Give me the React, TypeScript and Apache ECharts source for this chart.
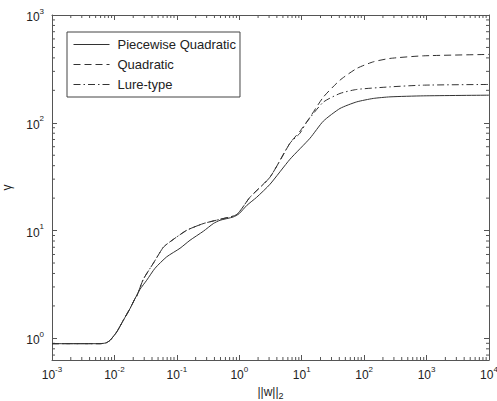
import React, { useEffect, useRef } from "react";
import * as echarts from "echarts";

// ---- data ----
const xPQ = [0.001, 0.00587, 0.00733, 0.00849, 0.01086, 0.01387, 0.01774, 0.02135, 0.02568, 0.03287, 0.04466, 0.06877, 0.1123, 0.1623, 0.2652, 0.3835, 0.491, 0.802, 0.989, 1.329, 1.9, 3.104, 6.49, 13.57, 22.17, 41.04, 76.0, 140.2, 259.4, 886, 10000];
const yPQ = [0.893, 0.893, 0.908, 0.958, 1.144, 1.47, 1.887, 2.337, 2.85, 3.46, 4.47, 5.71, 6.85, 8.13, 9.85, 11.61, 12.46, 13.38, 14.32, 17.18, 20.38, 26.9, 45.9, 71.9, 103.5, 135.8, 156.3, 168.2, 174.0, 177.8, 180.4];

const xQ = [0.001, 0.00587, 0.00733, 0.00849, 0.01086, 0.01387, 0.01774, 0.02135, 0.02274, 0.02901, 0.04195, 0.0607, 0.0777, 0.1438, 0.2652, 0.491, 0.909, 1.484, 3.104, 6.49, 9.38, 13.57, 22.17, 41.04, 76.0, 140.2, 259.4, 886, 10000];
const yQ = [0.893, 0.893, 0.908, 0.958, 1.144, 1.47, 1.887, 2.337, 2.45, 3.53, 4.97, 7.0, 7.87, 10.06, 11.61, 12.73, 14.08, 20.4, 31.3, 64.7, 83.6, 112.7, 172.9, 248.6, 319, 367.8, 395.4, 418, 430.7];

const xL = [0.001, 0.00587, 0.00733, 0.00849, 0.01086, 0.01387, 0.01774, 0.02135, 0.02274, 0.02901, 0.04195, 0.0607, 0.0777, 0.1438, 0.2652, 0.491, 0.909, 1.484, 3.104, 6.49, 9.38, 12.02, 22.17, 41.04, 76.0, 259.4, 886, 10000];
const yL = [0.893, 0.893, 0.908, 0.958, 1.144, 1.47, 1.887, 2.337, 2.45, 3.53, 4.97, 7.0, 7.87, 10.06, 11.61, 12.73, 14.08, 20.4, 31.3, 64.7, 80.1, 101.3, 155.3, 187.1, 203.8, 215.4, 223.4, 226.8];

const seriesNames = ["Piecewise Quadratic", "Quadratic", "Lure-type"];
const xMin = 0.001;
const xMax = 10000;
const yMin = 0.63;
const yMax = 1000;

const FONT = "Liberation Sans, Arial, Helvetica, sans-serif";

function zip(xs: number[], ys: number[]) {
  return xs.map((x, i) => [x, ys[i]]);
}

function minorTicks(lo: number, hi: number) {
  const out: number[] = [];
  for (let e = -4; e <= 4; e++) {
    for (let k = 2; k <= 9; k++) {
      const v = k * Math.pow(10, e);
      if (v > lo * 1.0001 && v < hi * 0.9999) out.push(v);
    }
  }
  return out;
}

function powLabel(v: number) {
  const l = Math.log10(v);
  const e = Math.round(l);
  if (Math.abs(l - e) > 1e-6) return "";
  return "{b|10}{s|" + e + "}";
}

const labelRich = {
  b: { fontSize: 12, fontFamily: FONT, color: "#222", verticalAlign: "bottom" as const },
  s: { fontSize: 8, fontFamily: FONT, color: "#222", verticalAlign: "bottom" as const, padding: [0, 0, 8, 0] },
};

export default function App() {
  const ref = useRef<HTMLDivElement>(null);
  useEffect(() => {
    if (!ref.current) return;
    const chart = echarts.init(ref.current, undefined, { renderer: "svg" });
    const axisColor = "#555";
    const lineColor = "#333";
    const xMinor = minorTicks(xMin, xMax);
    const yMinor = minorTicks(yMin, yMax);

    const baseX = {
      type: "log" as const,
      min: xMin,
      max: xMax,
      logBase: 10,
      axisLine: { show: true, onZero: false, lineStyle: { color: axisColor, width: 1 } },
      axisTick: { show: true, inside: true, length: 5, lineStyle: { color: axisColor } },
      splitLine: { show: false },
      minorTick: { show: false },
    };
    const baseY = {
      type: "log" as const,
      min: yMin,
      max: yMax,
      logBase: 10,
      axisLine: { show: true, onZero: false, lineStyle: { color: axisColor, width: 1 } },
      axisTick: { show: true, inside: true, length: 5, lineStyle: { color: axisColor } },
      splitLine: { show: false },
      minorTick: { show: false },
    };

    const lineCommon = {
      type: "line" as const,
      symbol: "none",
      showSymbol: false,
      smooth: 0.2,
    };

    chart.setOption({
      animation: false,
      backgroundColor: "#fff",
      grid: { left: 52, top: 15, right: 8, bottom: 41, containLabel: false, outerBoundsMode: "none" },
      legend: {
        show: true,
        data: seriesNames,
        orient: "vertical",
        left: 67,
        top: 32,
        itemWidth: 36,
        itemHeight: 13,
        itemGap: 7,
        padding: [6, 4, 6, 6],
        borderColor: "#444",
        borderWidth: 1,
        borderRadius: 0,
        backgroundColor: "#fff",
        itemStyle: { opacity: 0 },
        lineStyle: { width: 1 },
        textStyle: { fontFamily: FONT, fontSize: 13, color: "#222", padding: [0, 0, 0, 3] },
        selectedMode: false,
      },
      xAxis: [
        {
          ...baseX,
          position: "bottom",
          axisLabel: { show: true, margin: 5, formatter: powLabel, rich: labelRich },
          name: "{a|||w||}{c|2}",
          nameLocation: "middle",
          nameGap: 20,
          nameTextStyle: {
            rich: {
              a: { fontSize: 12, fontFamily: FONT, color: "#222", verticalAlign: "top" },
              c: { fontSize: 9, fontFamily: FONT, color: "#222", verticalAlign: "top", padding: [6, 0, 0, 0] },
            },
          },
        },
        { ...baseX, position: "top", axisLabel: { show: false } },
      ],
      yAxis: [
        {
          ...baseY,
          position: "left",
          axisLabel: { show: true, margin: 8, formatter: powLabel, rich: labelRich },
          name: "γ",
          nameLocation: "middle",
          nameGap: 39,
          nameRotate: 90,
          nameTextStyle: { fontFamily: FONT, fontSize: 12, color: "#222" },
        },
        { ...baseY, position: "right", axisLabel: { show: false } },
      ],
      series: [
        {
          ...lineCommon,
          name: seriesNames[0],
          data: zip(xPQ, yPQ),
          lineStyle: { color: lineColor, width: 1, type: "solid" },
          itemStyle: { color: lineColor },
        },
        {
          ...lineCommon,
          name: seriesNames[1],
          data: zip(xQ, yQ),
          lineStyle: { color: lineColor, width: 1, type: [7, 4] },
          itemStyle: { color: lineColor },
        },
        {
          ...lineCommon,
          name: seriesNames[2],
          data: zip(xL, yL),
          lineStyle: { color: lineColor, width: 1, type: [7, 3, 1.5, 3] },
          itemStyle: { color: lineColor },
        },
        {
          type: "custom",
          name: "xminor",
          silent: true,
          data: xMinor.map((v) => [v, 1]),
          renderItem: (params: any, api: any) => {
            const v = api.value(0);
            const px = api.coord([v, 1])[0];
            const cs = params.coordSys;
            const top = cs.y;
            const bottom = cs.y + cs.height;
            return {
              type: "group",
              children: [
                { type: "line", shape: { x1: px, y1: bottom, x2: px, y2: bottom - 3 }, style: { stroke: axisColor, lineWidth: 1 } },
                { type: "line", shape: { x1: px, y1: top, x2: px, y2: top + 3 }, style: { stroke: axisColor, lineWidth: 1 } },
              ],
            };
          },
        },
        {
          type: "custom",
          name: "yminor",
          silent: true,
          data: yMinor.map((v) => [1, v]),
          renderItem: (params: any, api: any) => {
            const v = api.value(1);
            const py = api.coord([1, v])[1];
            const cs = params.coordSys;
            const left = cs.x;
            const right = cs.x + cs.width;
            return {
              type: "group",
              children: [
                { type: "line", shape: { x1: left, y1: py, x2: left + 3, y2: py }, style: { stroke: axisColor, lineWidth: 1 } },
                { type: "line", shape: { x1: right, y1: py, x2: right - 3, y2: py }, style: { stroke: axisColor, lineWidth: 1 } },
              ],
            };
          },
        },
      ],
    });
    return () => chart.dispose();
  }, []);
  return (
    <div
      ref={ref}
      style={{ position: "fixed", left: 0, top: 0, width: 497, height: 401, background: "#fff" }}
    />
  );
}
